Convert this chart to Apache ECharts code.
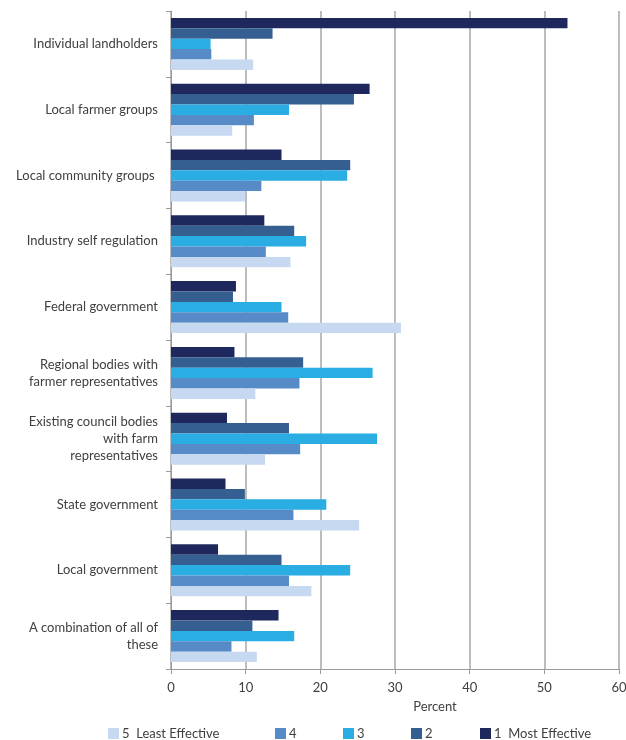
<!DOCTYPE html>
<html>
<head>
<meta charset="utf-8">
<script src="https://cdn.jsdelivr.net/npm/echarts@6/dist/echarts.min.js"></script>
<style>
  html, body { margin: 0; padding: 0; background: #ffffff; }
  #chart { width: 626px; height: 740px; }
</style>
</head>
<body>
<div id="chart"></div>
<script>
// Who should be responsible — rated effectiveness (percent of respondents)
const categories = [
  'Individual landholders',
  'Local farmer groups',
  'Local community groups ',
  'Industry self regulation',
  'Federal government',
  'Regional bodies with\nfarmer representatives',
  'Existing council bodies\nwith farm\nrepresentatives',
  'State government',
  'Local government',
  'A combination of all of\nthese'
];

const mostEffective  = [53.1, 26.6, 14.8, 12.5, 8.7, 8.5, 7.5, 7.3, 6.3, 14.4];
const rating2        = [13.6, 24.5, 24.0, 16.5, 8.3, 17.7, 15.8, 9.9, 14.8, 10.9];
const rating3        = [5.3, 15.8, 23.6, 18.1, 14.8, 27.0, 27.6, 20.8, 24.0, 16.5];
const rating4        = [5.4, 11.1, 12.1, 12.7, 15.7, 17.2, 17.3, 16.4, 15.8, 8.1];
const leastEffective = [11.0, 8.2, 9.9, 16.0, 30.8, 11.3, 12.6, 25.2, 18.8, 11.5];

const seriesNames = ['1  Most Effective', '2', '3', '4', '5  Least Effective'];
const seriesValues = [mostEffective, rating2, rating3, rating4, leastEffective];
const seriesColors = ['#1e285c', '#355f91', '#29ade3', '#568bc8', '#c6d9f0'];

const xTicks = { min: 0, max: 60, interval: 10 };

const textColor = '#404040';
const fontFamily = 'Lato, "Open Sans", sans-serif';

// legend entries laid out left to right: 5, 4, 3, 2, 1
const legendOrder = [4, 3, 2, 1, 0];
const legendLefts = [108, 275, 343, 411, 480];

const chart = echarts.init(document.getElementById('chart'), null, { renderer: 'canvas' });

chart.setOption({
  animation: false,
  backgroundColor: '#ffffff',
  textStyle: { fontFamily: fontFamily, color: textColor },
  grid: { left: 171, right: 7, top: 11, bottom: 71, containLabel: false, outerBoundsMode: 'none' },
  legend: legendOrder.map((idx, i) => ({
    data: [seriesNames[idx]],
    left: legendLefts[i],
    top: 727,
    itemWidth: 11,
    itemHeight: 11,
    itemGap: 0,
    padding: 0,
    icon: 'rect',
    selectedMode: false,
    textStyle: { fontFamily: fontFamily, fontSize: 13, color: textColor, padding: [0, 0, 0, -2] }
  })),
  xAxis: {
    type: 'value',
    min: xTicks.min,
    max: xTicks.max,
    interval: xTicks.interval,
    name: 'Percent',
    nameLocation: 'middle',
    nameGap: 31,
    nameTextStyle: { fontFamily: fontFamily, fontSize: 13, color: textColor, padding: [0, 0, 0, 80] },
    axisLine: { show: true, lineStyle: { color: '#9a9a9a', width: 1 } },
    axisTick: { show: true, length: 5, lineStyle: { color: '#9a9a9a' } },
    axisLabel: { fontFamily: fontFamily, fontSize: 13, color: textColor, margin: 12 },
    splitLine: { show: true, lineStyle: { color: '#bdbdbd', width: 2 } }
  },
  yAxis: {
    type: 'category',
    data: categories,
    inverse: true,
    axisLine: { show: true, lineStyle: { color: '#9a9a9a', width: 1 } },
    axisTick: { show: true, length: 5, alignWithLabel: false, lineStyle: { color: '#9a9a9a' } },
    axisLabel: {
      fontFamily: fontFamily, fontSize: 13, color: textColor, margin: 13,
      lineHeight: 17, align: 'right'
    },
    splitLine: { show: false }
  },
  series: seriesNames.map((name, i) => ({
    name: name,
    type: 'bar',
    data: seriesValues[i],
    barGap: '0%',
    barCategoryGap: '21%',
    itemStyle: { color: seriesColors[i] }
  }))
});
</script>
</body>
</html>
